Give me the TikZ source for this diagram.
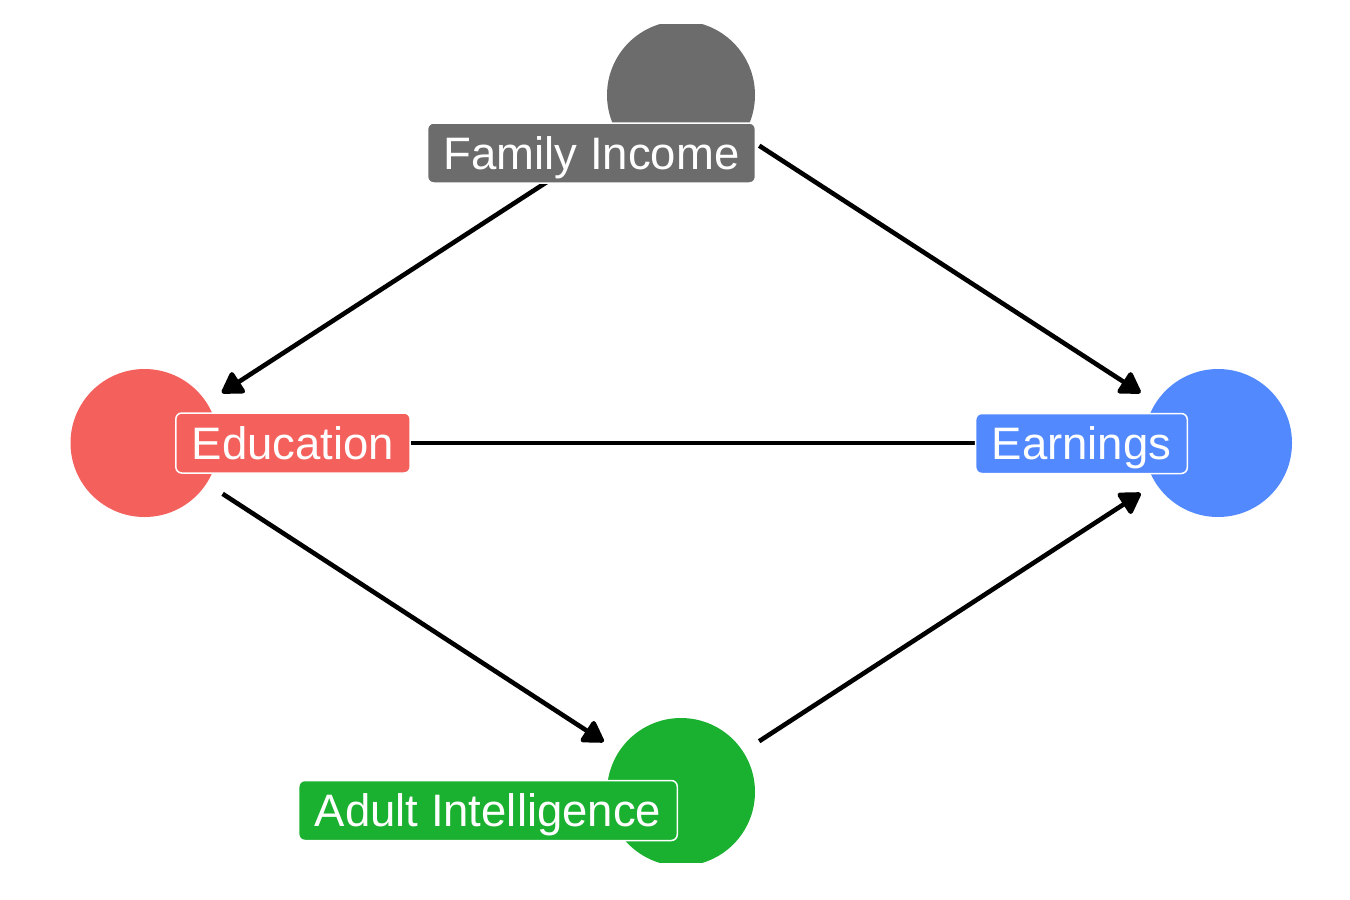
\documentclass[tikz,border=0pt]{standalone}
\usepackage{fontspec}
\setmainfont{Liberation Sans}
\usetikzlibrary{arrows.meta}
\definecolor{cfam}{RGB}{108,108,108}
\definecolor{cedu}{RGB}{244,97,93}
\definecolor{cear}{RGB}{82,137,255}
\definecolor{cadu}{RGB}{26,176,48}
\tikzset{
  dot/.style={circle,fill=#1,draw=none,minimum size=148pt,inner sep=0pt},
  lab/.style={rectangle,rounded corners=6pt,fill=#1,draw=white,line width=1.5pt,
    text=white,font=\fontsize{45.5}{54}\selectfont,inner xsep=16pt,inner ysep=7pt,
    text height=39pt,text depth=7pt},
  edge/.style={line width=4.6pt,-{Triangle[length=23pt 0 0,width=27pt 0 0,round]},
    shorten <=19pt,shorten >=18pt}
}
\begin{document}
\begin{tikzpicture}[x=1pt,y=-1pt]
\useasboundingbox (0,0) rectangle (1350,900);
\begin{scope}
\clip (0,24) rectangle (1350,862);
\node[dot=cfam] (fi) at (681,95) {};
\node[dot=cedu] (ed) at (144.5,443) {};
\node[dot=cear] (ea) at (1218,443) {};
\node[dot=cadu] (ai) at (681,792) {};
\end{scope}
\draw[edge] (fi) -- (ed);
\draw[edge] (fi) -- (ea);
\draw[edge] (ed) -- (ea);
\draw[edge] (ed) -- (ai);
\draw[edge] (ai) -- (ea);
\node[lab=cfam] (fil) at (591.5,153) {Family Income};
\node[lab=cedu] (edl) at (293,443) {Education};
\node[lab=cear] (eal) at (1081.5,443.5) {Earnings};
\node[lab=cadu] (ail) at (488,810.5) {Adult Intelligence};
\end{tikzpicture}
\end{document}
